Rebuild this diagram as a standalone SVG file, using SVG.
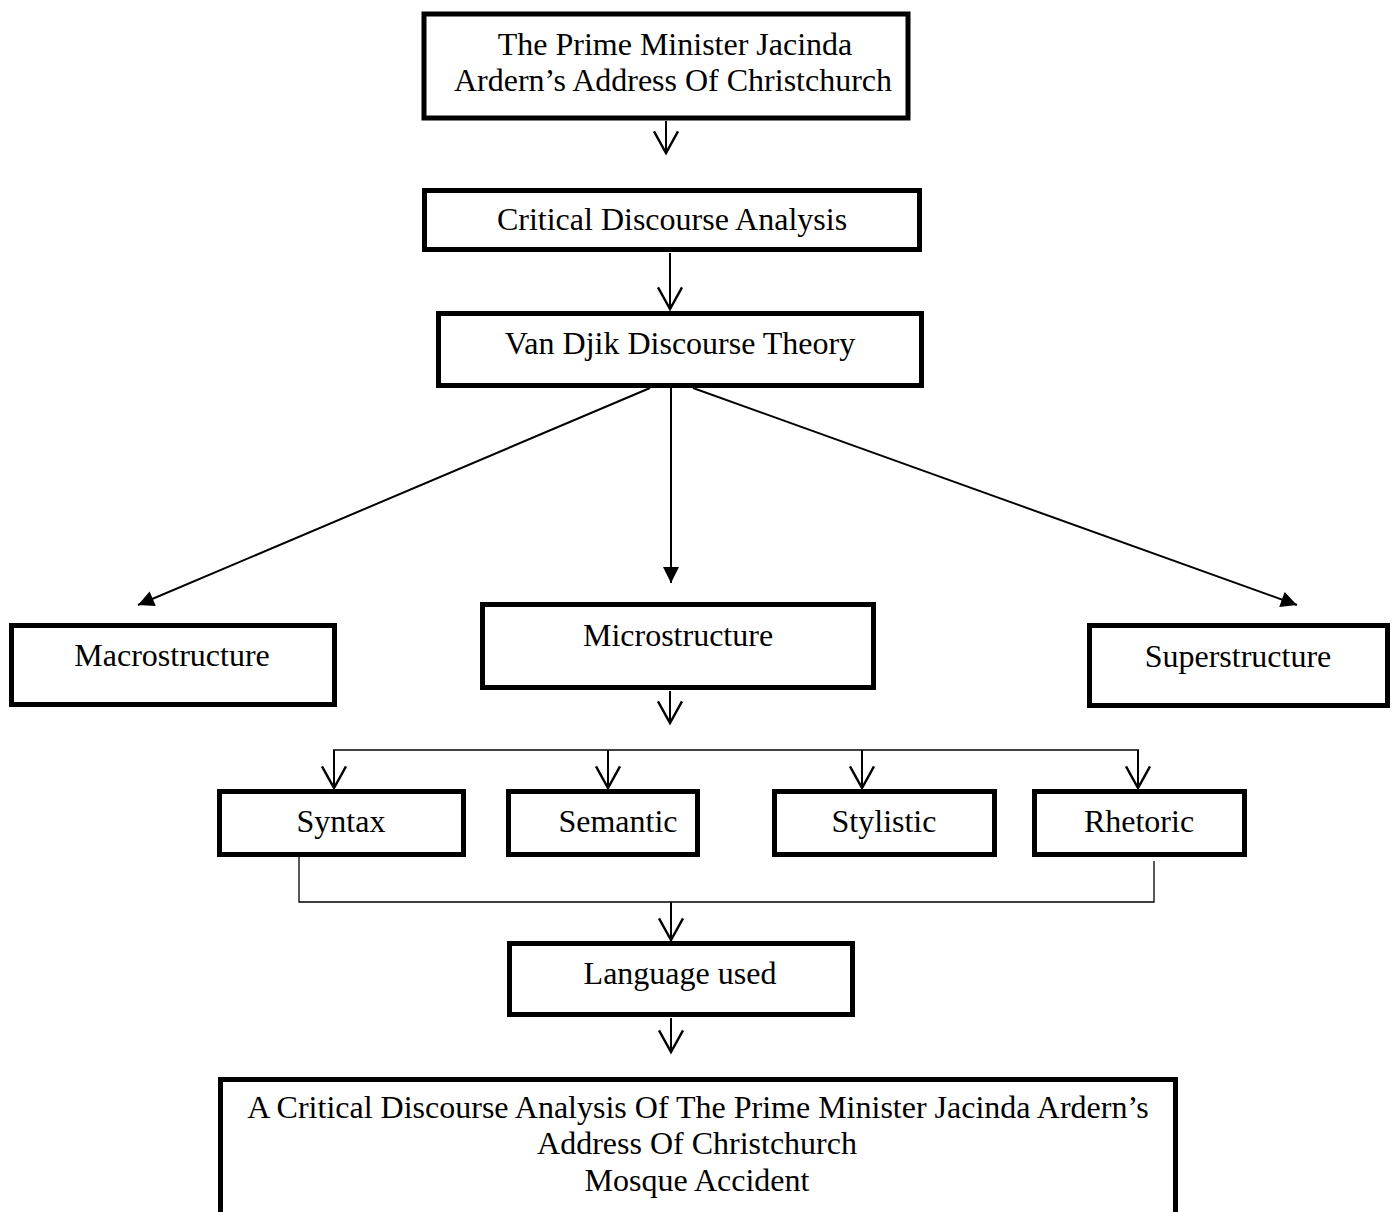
<svg xmlns="http://www.w3.org/2000/svg" width="1394" height="1212" viewBox="0 0 1394 1212">
<style>
.box{fill:#fff;stroke:#000;stroke-width:5}
.t{font-family:"Liberation Serif","Times New Roman",serif;font-size:32px;fill:#000;text-anchor:middle}
.c{fill:none;stroke:#000;stroke-width:2}
.thin{fill:none;stroke:#000;stroke-width:1.3}
</style>
<defs>
<marker id="open" markerUnits="userSpaceOnUse" markerWidth="24" markerHeight="24" refX="18" refY="10" viewBox="0 0 20 20" orient="auto" overflow="visible">
<path d="M0,0 L18,10 L0,20" fill="none" stroke="#000" stroke-width="2"/>
</marker>
<marker id="fill" markerUnits="userSpaceOnUse" markerWidth="18" markerHeight="16" refX="16" refY="8" viewBox="0 0 16 16" orient="auto" overflow="visible">
<path d="M0,0 L16,8 L0,16 Z" fill="#000"/>
</marker>
</defs>
<rect width="1394" height="1212" fill="#fff"/>
<g id="connectors">
<line class="c" x1="666" y1="121" x2="666" y2="153" marker-end="url(#open)"/>
<line class="c" x1="670" y1="253" x2="670" y2="309" marker-end="url(#open)"/>
<line class="c" x1="650" y1="388" x2="138" y2="605" marker-end="url(#fill)"/>
<line class="c" x1="671" y1="388" x2="671" y2="583" marker-end="url(#fill)"/>
<line class="c" x1="693" y1="388" x2="1297" y2="605" marker-end="url(#fill)"/>
<line class="c" x1="670" y1="691" x2="670" y2="723" marker-end="url(#open)"/>
<polyline class="thin" points="333,750 1139,750"/>
<line class="c" x1="334" y1="750" x2="334" y2="788" marker-end="url(#open)"/>
<line class="c" x1="608" y1="750" x2="608" y2="788" marker-end="url(#open)"/>
<line class="c" x1="862" y1="750" x2="862" y2="788" marker-end="url(#open)"/>
<line class="c" x1="1138" y1="750" x2="1138" y2="788" marker-end="url(#open)"/>
<polyline class="thin" points="299,857 299,902 1154,902 1154,861"/>
<line class="c" x1="671" y1="902" x2="671" y2="940" marker-end="url(#open)"/>
<line class="c" x1="671" y1="1018" x2="671" y2="1052" marker-end="url(#open)"/>
</g>
<g id="n-top">
<rect class="box" x="424" y="14" width="484" height="104"/>
<text class="t" x="675" y="55">The Prime Minister Jacinda</text>
<text class="t" x="673" y="91">Ardern’s Address Of Christchurch</text>
</g>
<g id="n-cda">
<rect class="box" x="424.5" y="190.5" width="495" height="59"/>
<text class="t" x="672" y="230">Critical Discourse Analysis</text>
</g>
<g id="n-vandjik">
<rect class="box" x="438.5" y="313.5" width="483" height="72"/>
<text class="t" x="680" y="354">Van Djik Discourse Theory</text>
</g>
<g id="n-macro">
<rect class="box" x="11.5" y="625.5" width="323" height="79"/>
<text class="t" x="172" y="666">Macrostructure</text>
</g>
<g id="n-micro">
<rect class="box" x="482.5" y="604.5" width="391" height="83"/>
<text class="t" x="678" y="646">Microstructure</text>
</g>
<g id="n-super">
<rect class="box" x="1089.5" y="625.5" width="298" height="80"/>
<text class="t" x="1238" y="667">Superstructure</text>
</g>
<g id="n-syntax">
<rect class="box" x="219.5" y="791.5" width="244" height="63"/>
<text class="t" x="341" y="832">Syntax</text>
</g>
<g id="n-semantic">
<rect class="box" x="508.5" y="791.5" width="189" height="63"/>
<text class="t" x="618" y="832">Semantic</text>
</g>
<g id="n-stylistic">
<rect class="box" x="774.5" y="791.5" width="220" height="63"/>
<text class="t" x="884" y="832">Stylistic</text>
</g>
<g id="n-rhetoric">
<rect class="box" x="1034.5" y="791.5" width="210" height="63"/>
<text class="t" x="1139" y="832">Rhetoric</text>
</g>
<g id="n-language">
<rect class="box" x="509.5" y="943.5" width="343" height="71"/>
<text class="t" x="680" y="984">Language used</text>
</g>
<g id="n-result">
<rect class="box" x="220.5" y="1079.5" width="955" height="145"/>
<text class="t" x="698" y="1118">A Critical Discourse Analysis Of The Prime Minister Jacinda Ardern’s</text>
<text class="t" x="697" y="1154">Address Of Christchurch</text>
<text class="t" x="697" y="1191">Mosque Accident</text>
</g>
</svg>
